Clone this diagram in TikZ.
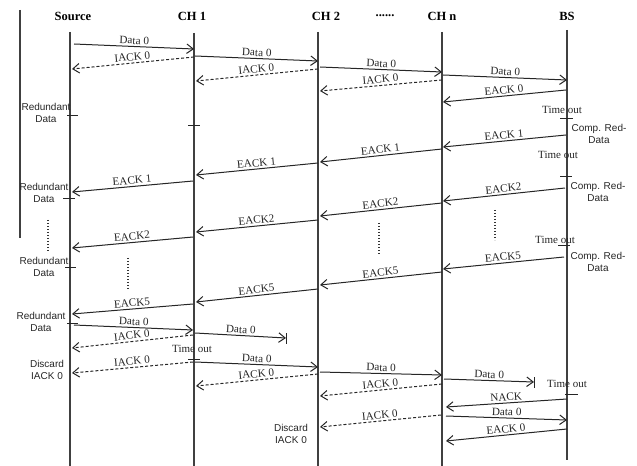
\documentclass[tikz,border=0pt]{standalone}
\usepackage{fontspec}
\setmainfont{Liberation Serif}
\newfontfamily\annfont{Liberation Sans}
\usetikzlibrary{arrows.meta}
\newcommand\mymsg[5]{%
  \coordinate (#1a) at (#2);
  \coordinate (#1b) at (#3);
  \draw[#4] (#1a) -- (#1b) node[lbl]{#5};}
\begin{document}
\begin{tikzpicture}[x=1bp,y=-1bp,
  life/.style={line width=1.1bp, draw=black!75},
  msg/.style={line width=1bp, draw=black!85, -{Straight Barb[length=6.5bp,width=9.5bp,line width=1bp]}},
  ack/.style={msg, dash pattern=on 3bp off 2bp},
  lbl/.style={font=\fontsize{11.2bp}{12bp}\selectfont, sloped, above, inner sep=1.8bp, midway, text=black!85},
  hdr/.style={font=\fontsize{12.5bp}{14bp}\selectfont\bfseries, inner sep=0},
  ann/.style={font=\annfont\fontsize{10bp}{12bp}\selectfont, align=center, inner sep=0, text=black!85},
  tmo/.style={font=\fontsize{11bp}{12bp}\selectfont, inner sep=0, text=black!85},
  tickl/.style={line width=1bp, draw=black!85},
  dotl/.style={line width=1.1bp, draw=black!80, dash pattern=on 1.5bp off 1.5bp}]
\useasboundingbox (0,0) rectangle (637,466);
% headers
\node[hdr] (hS) at (73,16) {Source};
\node[hdr] (h1) at (192,16) {CH 1};
\node[hdr] (h2) at (326,16) {CH 2};
\node[hdr] (hd) at (385,16) {......};
\node[hdr] (hn) at (442,16) {CH n};
\node[hdr] (hB) at (567,16) {BS};
% left bar
\coordinate (L0) at (20,10); \coordinate (L1) at (20,238);
\draw[life] (L0) -- (L1);
% lifelines
\coordinate (S0) at (70,32);  \coordinate (S1) at (70,466);
\coordinate (A0) at (194,33); \coordinate (A1) at (194,466);
\coordinate (B0) at (318,32); \coordinate (B1) at (318,466);
\coordinate (N0) at (442,32); \coordinate (N1) at (442,466);
\coordinate (T0) at (567,30); \coordinate (T1) at (567,460);
\draw[life] (S0) -- (S1);
\draw[life] (A0) -- (A1);
\draw[life] (B0) -- (B1);
\draw[life] (N0) -- (N1);
\draw[life] (T0) -- (T1);
% messages
\mymsg{m1}{74,44}{194,49}{msg}{Data 0}
\mymsg{m2}{194,57}{72,69}{ack}{IACK 0}
\mymsg{m3}{195,56}{318,61}{msg}{Data 0}
\mymsg{m4}{318,69}{196,81}{ack}{IACK 0}
\mymsg{m5}{320,67}{442,72}{msg}{Data 0}
\mymsg{m6}{442,80}{320,91}{ack}{IACK 0}
\mymsg{m7}{443,75}{567,80}{msg}{Data 0}
\mymsg{m8}{566,90}{443,102}{msg}{EACK 0}
\mymsg{m9}{566,135}{443,147}{msg}{EACK 1}
\mymsg{m10}{442,149}{320,162}{msg}{EACK 1}
\mymsg{m11}{318,163}{196,175}{msg}{EACK 1}
\mymsg{m12}{193,181}{72,192}{msg}{EACK 1}
\mymsg{m13}{565,188}{443,201}{msg}{EACK2}
\mymsg{m14}{442,203}{320,216}{msg}{EACK2}
\mymsg{m15}{318,220}{196,232}{msg}{EACK2}
\mymsg{m16}{193,237}{72,248}{msg}{EACK2}
\mymsg{m17}{564,257}{443,269}{msg}{EACK5}
\mymsg{m18}{442,272}{320,285}{msg}{EACK5}
\mymsg{m19}{318,289}{196,302}{msg}{EACK5}
\mymsg{m20}{193,304}{72,314}{msg}{EACK5}
\mymsg{m21}{74,325}{193,330}{msg}{Data 0}
\mymsg{m22}{193,335}{72,348}{ack}{IACK 0}
\mymsg{m23}{195,333}{286,338}{msg}{Data 0}
\mymsg{m24}{195,362}{318,367}{msg}{Data 0}
\mymsg{m25}{193,362}{72,373}{ack}{IACK 0}
\mymsg{m26}{318,374}{196,386}{ack}{IACK 0}
\mymsg{m27}{320,372}{442,375}{msg}{Data 0}
\mymsg{m28}{442,384}{320,396}{ack}{IACK 0}
\mymsg{m29}{444,379}{534,382}{msg}{Data 0}
\mymsg{m30}{567,399}{446,407}{msg}{NACK}
\mymsg{m31}{446,416}{567,420}{msg}{Data 0}
\mymsg{m32}{441,415}{320,427}{ack}{IACK 0}
\mymsg{m33}{567,429}{446,441}{msg}{EACK 0}
% stop bars of lost data
\draw[tickl] ([yshift=-5.5bp]m23b) -- ([yshift=5.5bp]m23b);
\draw[tickl] ([yshift=-5.5bp]m29b) -- ([yshift=5.5bp]m29b);
% ticks on lifelines
\draw[tickl] (67,116) -- (78,116);
\draw[tickl] (63,199) -- (75,199);
\draw[tickl] (65,268) -- (76,268);
\draw[tickl] (67,323) -- (78,323);
\draw[tickl] (188,126) -- (200,126);
\draw[tickl] (188,359) -- (200,359);
\draw[tickl] (560,119) -- (573,119);
\draw[tickl] (560,177) -- (572,177);
\draw[tickl] (558,246) -- (570,246);
\draw[tickl] (565,394) -- (578,394);
% annotations
\node[ann] (r1) at (46,112.5) {Redundant\\Data};
\node[ann] (r2) at (44,192.5) {Redundant\\Data};
\node[ann] (r3) at (44,267) {Redundant\\Data};
\node[ann] (r4) at (41,321.5) {Redundant\\Data};
\node[ann] (c1) at (599,133.5) {Comp. Red-\\Data};
\node[ann] (c2) at (598,192) {Comp. Red-\\Data};
\node[ann] (c3) at (598,262) {Comp. Red-\\Data};
\node[ann] (d1) at (47,370) {Discard\\IACK 0};
\node[ann] (d2) at (291,433.5) {Discard\\IACK 0};
\node[tmo] (t1) at (562,110) {Time out};
\node[tmo] (t2) at (558,155) {Time out};
\node[tmo] (t3) at (555,240) {Time out};
\node[tmo] (t4) at (192,349) {Time out};
\node[tmo] (t5) at (567,384) {Time out};
% vertical dotted continuation marks
\coordinate (v1a) at (48,220);  \coordinate (v1b) at (48,252);
\coordinate (v2a) at (128,258); \coordinate (v2b) at (128,290);
\coordinate (v3a) at (379,223); \coordinate (v3b) at (379,255);
\coordinate (v4a) at (495,210); \coordinate (v4b) at (495,240);
\draw[dotl] (v1a) -- (v1b);
\draw[dotl] (v2a) -- (v2b);
\draw[dotl] (v3a) -- (v3b);
\draw[dotl] (v4a) -- (v4b);
\end{tikzpicture}
\end{document}
